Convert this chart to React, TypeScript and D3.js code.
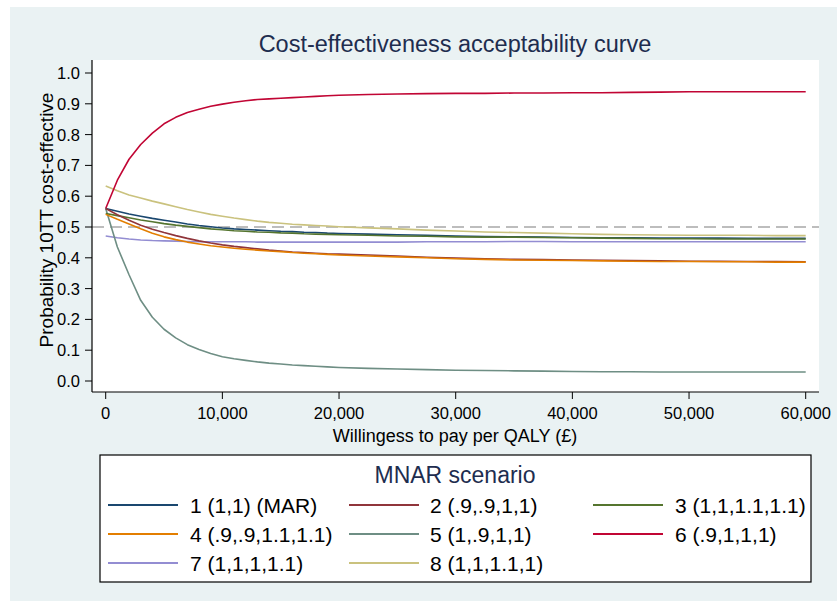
import React from "react";
import * as d3 from "d3";

const wtp = [
  0, 1000, 2000, 3000, 4000, 5000, 6000, 7000, 8000, 9000, 10000, 11000, 12000, 13000, 14000, 15000,
  16000, 17000, 18000, 19000, 20000, 22500, 25000, 27500, 30000, 32500, 35000, 37500, 40000, 42500,
  45000, 47500, 50000, 52500, 55000, 57500, 60000,
];

const s1 = [0.56, 0.551, 0.542, 0.535, 0.528, 0.522, 0.516, 0.51, 0.505, 0.501, 0.497, 0.494, 0.492, 0.49, 0.488, 0.486, 0.485, 0.483, 0.482, 0.48, 0.479, 0.477, 0.475, 0.473, 0.471, 0.469, 0.468, 0.467, 0.466, 0.465, 0.465, 0.464, 0.464, 0.464, 0.463, 0.463, 0.463];
const s2 = [0.56, 0.54, 0.522, 0.506, 0.493, 0.482, 0.472, 0.463, 0.455, 0.448, 0.442, 0.437, 0.433, 0.429, 0.425, 0.422, 0.419, 0.417, 0.415, 0.413, 0.412, 0.409, 0.406, 0.402, 0.399, 0.397, 0.395, 0.394, 0.393, 0.392, 0.391, 0.39, 0.389, 0.389, 0.388, 0.388, 0.387];
const s3 = [0.544, 0.537, 0.53, 0.523, 0.517, 0.511, 0.506, 0.502, 0.498, 0.494, 0.491, 0.488, 0.486, 0.484, 0.483, 0.481, 0.48, 0.478, 0.477, 0.476, 0.475, 0.473, 0.471, 0.47, 0.468, 0.467, 0.467, 0.466, 0.465, 0.464, 0.463, 0.462, 0.462, 0.461, 0.461, 0.461, 0.461];
const s4 = [0.541, 0.525, 0.51, 0.494, 0.48, 0.468, 0.459, 0.451, 0.445, 0.439, 0.435, 0.431, 0.428, 0.425, 0.422, 0.42, 0.417, 0.415, 0.413, 0.411, 0.409, 0.406, 0.403, 0.4, 0.397, 0.395, 0.393, 0.392, 0.391, 0.39, 0.389, 0.388, 0.388, 0.387, 0.387, 0.386, 0.386];
const s5 = [0.56, 0.435, 0.345, 0.262, 0.207, 0.168, 0.14, 0.118, 0.102, 0.089, 0.079, 0.072, 0.067, 0.062, 0.058, 0.055, 0.052, 0.05, 0.048, 0.046, 0.044, 0.041, 0.039, 0.037, 0.035, 0.034, 0.033, 0.032, 0.031, 0.03, 0.03, 0.029, 0.029, 0.029, 0.029, 0.029, 0.029];
const s6 = [0.56, 0.652, 0.72, 0.768, 0.805, 0.835, 0.856, 0.872, 0.882, 0.892, 0.899, 0.905, 0.91, 0.914, 0.916, 0.918, 0.92, 0.922, 0.924, 0.926, 0.928, 0.93, 0.932, 0.933, 0.934, 0.934, 0.935, 0.935, 0.936, 0.936, 0.937, 0.938, 0.939, 0.939, 0.939, 0.939, 0.939];
const s7 = [0.471, 0.465, 0.461, 0.458, 0.456, 0.455, 0.454, 0.453, 0.452, 0.452, 0.452, 0.452, 0.452, 0.451, 0.451, 0.451, 0.451, 0.451, 0.451, 0.451, 0.451, 0.451, 0.451, 0.452, 0.452, 0.452, 0.453, 0.453, 0.452, 0.452, 0.452, 0.452, 0.452, 0.452, 0.452, 0.452, 0.452];
const s8 = [0.633, 0.618, 0.604, 0.594, 0.584, 0.575, 0.566, 0.557, 0.549, 0.541, 0.535, 0.529, 0.524, 0.519, 0.515, 0.512, 0.509, 0.507, 0.505, 0.503, 0.501, 0.497, 0.494, 0.49, 0.487, 0.484, 0.482, 0.48, 0.478, 0.476, 0.475, 0.474, 0.473, 0.473, 0.473, 0.472, 0.472];

const seriesValues = [s1, s2, s3, s4, s5, s6, s7, s8];
const seriesLabels = [
  "1 (1,1) (MAR)",
  "2 (.9,.9,1,1)",
  "3 (1,1,1.1,1.1)",
  "4 (.9,.9,1.1,1.1)",
  "5 (1,.9,1,1)",
  "6 (.9,1,1,1)",
  "7 (1,1,1,1.1)",
  "8 (1,1,1.1,1)",
];
const seriesColors = ["#1a476f", "#90353b", "#55752f", "#e37e00", "#6e8e84", "#c10534", "#938dd2", "#cac27e"];
// draw order: later drawn on top
const drawOrder = [6, 4, 7, 5, 0, 2, 1, 3];

const xTicks = [0, 10000, 20000, 30000, 40000, 50000, 60000];
const yTicks = [0, 0.1, 0.2, 0.3, 0.4, 0.5, 0.6, 0.7, 0.8, 0.9, 1.0];
const refLine = 0.5;

const FONT = "'Liberation Sans', Arial, Helvetica, sans-serif";
const NAVY = "#1e2d4f";

export default function App() {
  const W = 837;
  const H = 608;
  const plot = { left: 92, right: 819, top: 60, bottom: 392 };
  const x = d3.scaleLinear().domain([0, 60000]).range([105.7, 805.7]);
  const y = d3.scaleLinear().domain([0, 1]).range([381, 73]);
  const line = d3
    .line<number>()
    .x((_, i) => x(wtp[i]))
    .y((d) => y(d));
  const fmt = d3.format(",");

  const legend = { x: 100, y: 455, w: 711, h: 127 };
  const colLine = [108, 349, 593];
  const colText = [190, 430, 675];
  const rowY = [505, 534, 563];

  return (
    <svg
      width={W}
      height={H}
      style={{ position: "absolute", left: 0, top: 0, display: "block" }}
      fontFamily={FONT}
    >
      <rect x={0} y={0} width={W} height={H} fill="#ffffff" />
      <rect x={10} y={7} width={W - 10} height={594} fill="#eaf2f3" />
      <rect x={plot.left} y={plot.top} width={plot.right - plot.left} height={plot.bottom - plot.top} fill="#ffffff" />

      <text x={455} y={52} textAnchor="middle" fontSize={23.5} fill={NAVY}>
        Cost-effectiveness acceptability curve
      </text>

      {/* reference line */}
      <line
        x1={plot.left}
        x2={plot.right}
        y1={y(refLine)}
        y2={y(refLine)}
        stroke="#a8a8a8"
        strokeWidth={1.6}
        strokeDasharray="12 6"
      />

      {drawOrder.map((k) => (
        <path
          key={k}
          d={line(seriesValues[k]) || ""}
          fill="none"
          stroke={seriesColors[k]}
          strokeWidth={1.6}
          strokeLinejoin="round"
        />
      ))}

      {/* axes */}
      <line x1={plot.left} x2={plot.left} y1={plot.top} y2={plot.bottom} stroke="#000" strokeWidth={1.2} />
      <line x1={plot.left} x2={plot.right} y1={plot.bottom} y2={plot.bottom} stroke="#000" strokeWidth={1.2} />
      {yTicks.map((t) => (
        <g key={t}>
          <line x1={plot.left - 7} x2={plot.left} y1={y(t)} y2={y(t)} stroke="#000" strokeWidth={1} />
          <text x={80} y={y(t)} dy="0.36em" textAnchor="end" fontSize={16.5} fill="#000">
            {t.toFixed(1)}
          </text>
        </g>
      ))}
      {xTicks.map((t) => (
        <g key={t}>
          <line x1={x(t)} x2={x(t)} y1={plot.bottom} y2={plot.bottom + 7} stroke="#000" strokeWidth={1} />
          <text x={x(t)} y={419} textAnchor="middle" fontSize={16.5} fill="#000">
            {fmt(t)}
          </text>
        </g>
      ))}
      <text x={455} y={442} textAnchor="middle" fontSize={18} fill="#000">
        Willingess to pay per QALY (£)
      </text>
      <text
        transform={`translate(53, 220) rotate(-90)`}
        textAnchor="middle"
        fontSize={19}
        fill="#000"
      >
        Probability 10TT cost-effective
      </text>

      {/* legend */}
      <rect x={legend.x} y={legend.y} width={legend.w} height={legend.h} fill="#ffffff" stroke="#000" strokeWidth={1.2} />
      <text x={455} y={483} textAnchor="middle" fontSize={23} fill={NAVY}>
        MNAR scenario
      </text>
      {seriesLabels.map((lab, i) => {
        const r = Math.floor(i / 3);
        const c = i % 3;
        return (
          <g key={lab}>
            <line x1={colLine[c]} x2={colLine[c] + 70} y1={rowY[r]} y2={rowY[r]} stroke={seriesColors[i]} strokeWidth={1.8} />
            <text x={colText[c]} y={rowY[r]} dy="0.36em" fontSize={21} fill="#000">
              {lab}
            </text>
          </g>
        );
      })}
    </svg>
  );
}
